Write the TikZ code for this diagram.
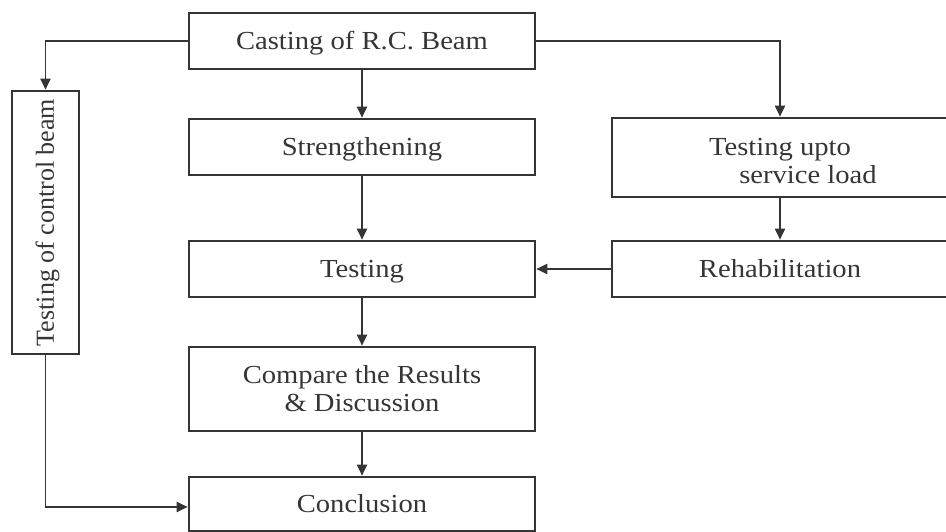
\documentclass[tikz,border=0pt]{standalone}
\usepackage{fontspec}
\setmainfont{Liberation Serif}[FakeStretch=1.1]
\newfontfamily\flatserif{Liberation Serif}
\usetikzlibrary{arrows.meta}
\definecolor{inkgray}{HTML}{353535}
\begin{document}
\begin{tikzpicture}[x=1pt,y=1pt]
		\tikzset{stepbox/.style = {shape=rectangle, draw=inkgray, line width=2.6pt, inner sep=0pt, minimum height=56pt, text=inkgray, font=\fontsize{26}{28}\selectfont, align=center, text height=20pt, text depth=3pt},
		link/.style = {draw=inkgray, line width=1.9pt, -{Triangle[length=11pt,width=10pt]}}}

		\useasboundingbox (0,0) rectangle (946,532);
		\clip (0,0) rectangle (946,532);

		\node[stepbox, minimum width=346pt] (cast) at (362,491) {Casting of R.C. Beam};
		\node[stepbox, minimum width=346pt] (streng) at (362,385) {Strengthening};
		\node[stepbox, minimum width=336pt, minimum height=79pt, text height=56pt, text depth=3.6pt] (upto) at (780,374.5) {Testing upto\\ \hspace*{56pt}service load};
		\node[stepbox, minimum width=346pt] (test) at (362,263) {Testing};
		\node[stepbox, minimum width=336pt] (rehab) at (780,263) {Rehabilitation};
		\node[stepbox, minimum width=346pt, minimum height=84pt, text height=50pt, text depth=4pt] (comp) at (362,143) {Compare the Results\\ \& Discussion};
		\node[stepbox, minimum width=346pt, minimum height=54pt] (concl) at (362,28) {Conclusion};
		\node[stepbox, rotate=90, font=\flatserif\fontsize{26}{28}\selectfont, minimum width=263pt, minimum height=67pt] (ctrl) at (45.5,309.5) {Testing of control beam};

		\draw[link] (cast.west) -| (ctrl.east);
		\draw[link] (cast.east) -| (upto.north);
		\draw[link] (cast) -- (streng);
		\draw[link] (streng) -- (test);
		\draw[link] (upto) -- (rehab);
		\draw[link] (rehab) -- (test);
		\draw[link] (test) -- (comp);
		\draw[link] (comp) -- (concl);
		\draw[link] (ctrl.west) |- ([yshift=-3pt]concl.west);

	\end{tikzpicture}
\end{document}
